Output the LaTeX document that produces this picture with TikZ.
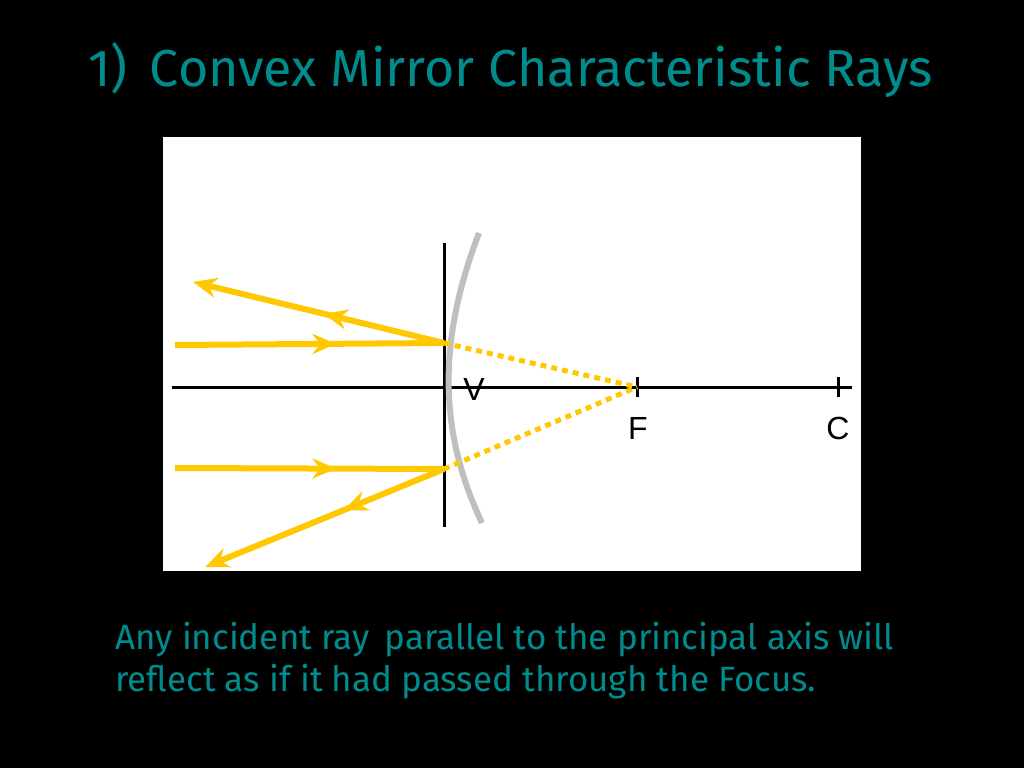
\documentclass[tikz,border=0pt]{standalone}
\usepackage{fontspec}
\setmainfont{Fira Sans}
\newfontfamily\arialf{Liberation Sans}
\usetikzlibrary{arrows.meta,decorations.markings}
\definecolor{teal1}{RGB}{0,140,140}
\definecolor{gold}{RGB}{255,200,0}
\tikzset{
 ray/.style={gold,line width=6pt},
 dotray/.style={gold,line width=5pt,dash pattern=on 6pt off 5pt},
 endarrow/.style={-{Stealth[length=24pt,width=20pt]}},
 midarrow/.style={postaction={decorate},decoration={markings,mark=at position #1 with {\arrow{Stealth[length=24pt,width=20pt]}}}},
 lbl/.style={font=\arialf\fontsize{32}{32}\selectfont,inner sep=0pt},
 txt/.style={teal1,anchor=west,inner sep=0pt}
}
\begin{document}
\begin{tikzpicture}[x=1pt,y=-1pt]
\fill[black] (0,0) rectangle (1024,768);
\useasboundingbox (0,0) rectangle (1024,768);
\node[txt,font=\fontsize{52}{52}\selectfont] (title) at (88,70) {1)\, Convex Mirror Characteristic Rays};
\fill[white] (163,137) rectangle (861,571);
\coordinate (axL) at (172,387); \coordinate (axR) at (852,387);
\draw[line width=3pt] (axL) -- (axR);
\coordinate (vt) at (444,243); \coordinate (vb) at (444,527);
\draw[line width=3pt] (vt) -- (vb);
\draw[gray!50,line width=6pt] (479,233) .. controls (438,340) and (438,430) .. (482,523);
\coordinate (F) at (637,387); \coordinate (C) at (838,387);
\draw[line width=3pt] (637,377) -- (637,397);
\draw[line width=3pt] (838,377) -- (838,397);
\node[lbl] (V) at (474,389) {V};
\node[lbl] (Fl) at (638,428) {F};
\node[lbl] (Cl) at (838,428) {C};
\coordinate (i1s) at (175,345); \coordinate (p1) at (444,343);
\coordinate (r1e) at (193,282);
\coordinate (i2s) at (175,468); \coordinate (p2) at (444,469);
\coordinate (r2e) at (205,567);
\draw[ray,midarrow=0.6] (i1s) -- (p1);
\draw[ray,midarrow=0.48,endarrow] (p1) -- (r1e);
\draw[dotray] (p1) -- (F);
\draw[ray,midarrow=0.6] (i2s) -- (p2);
\draw[ray,midarrow=0.42,endarrow] (p2) -- (r2e);
\draw[dotray] (p2) -- (F);
\node[txt,font=\fontsize{35}{35}\selectfont] (t1) at (115,640) {Any incident ray\, parallel to the principal axis will};
\node[txt,font=\fontsize{35}{35}\selectfont] (t2) at (115,682) {reflect as if it had passed through the Focus.};
\end{tikzpicture}
\end{document}
